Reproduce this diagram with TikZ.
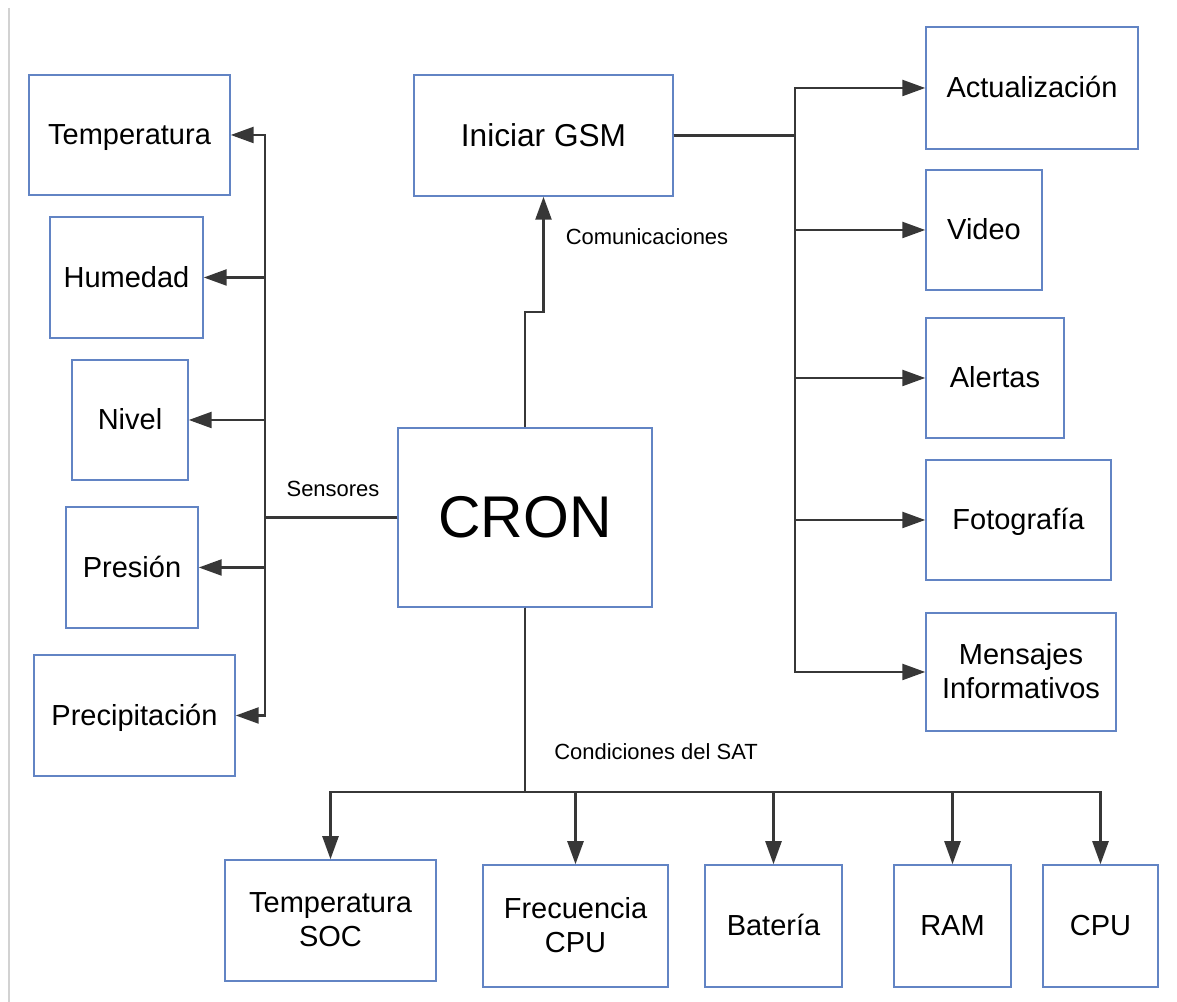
\documentclass[tikz,border=0pt]{standalone}
\usepackage{fontspec}
\setmainfont{Liberation Sans}
\usetikzlibrary{arrows.meta}

\definecolor{boxblue}{RGB}{98,132,196}
\definecolor{linegray}{RGB}{55,55,55}

\tikzset{
  box/.style={draw=boxblue, line width=0.85pt, align=center, inner sep=2pt,
    font=\fontsize{16.5}{19}\selectfont, text depth=0.2ex},
  link/.style={draw=linegray, line width=1.4pt,
    -{Triangle[length=0.46cm, width=0.32cm]}},
  lbl/.style={font=\fontsize{12.5}{15}\selectfont}
}

\begin{document}
\begin{tikzpicture}
\useasboundingbox (0,0) rectangle (23.54,20.04);
\draw[gray!35, line width=0.8pt] (0.18,19.88) -- (0.18,0);

% centro
\node[box, minimum width=5.08cm, minimum height=3.58cm,
  font=\fontsize{33.5}{38}\selectfont] (cron) at (10.50,9.69) {CRON};

% sensores
\node[box, minimum width=4.02cm, minimum height=2.40cm] (temp) at (2.59,17.34) {Temperatura};
\node[box, minimum width=3.06cm, minimum height=2.42cm] (hum) at (2.53,14.49) {Humedad};
\node[box, minimum width=2.32cm, minimum height=2.40cm] (niv) at (2.60,11.64) {Nivel};
\node[box, minimum width=2.64cm, minimum height=2.42cm] (pres) at (2.64,8.69) {Presión};
\node[box, minimum width=4.02cm, minimum height=2.42cm] (prec) at (2.69,5.73) {Precipitación};

% comunicaciones
\node[box, minimum width=5.18cm, minimum height=2.42cm,
  font=\fontsize{18}{21}\selectfont] (gsm) at (10.87,17.33) {Iniciar GSM};
\node[box, minimum width=4.24cm, minimum height=2.44cm] (act) at (20.64,18.28) {Actualización};
\node[box, minimum width=2.32cm, minimum height=2.40cm] (vid) at (19.68,15.44) {Video};
\node[box, minimum width=2.76cm, minimum height=2.40cm] (alr) at (19.90,12.48) {Alertas};
\node[box, minimum width=3.70cm, minimum height=2.40cm] (foto) at (20.37,9.64) {Fotografía};
\node[box, minimum width=3.80cm, minimum height=2.36cm] (msj) at (20.42,6.60) {Mensajes\\Informativos};

% condiciones del SAT
\node[box, minimum width=4.22cm, minimum height=2.42cm] (soc) at (6.61,1.63) {Temperatura\\SOC};
\node[box, minimum width=3.70cm, minimum height=2.44cm] (frec) at (11.51,1.52) {Frecuencia\\CPU};
\node[box, minimum width=2.74cm, minimum height=2.44cm] (bat) at (15.47,1.52) {Batería};
\node[box, minimum width=2.34cm, minimum height=2.44cm] (ram) at (19.05,1.52) {RAM};
\node[box, minimum width=2.30cm, minimum height=2.44cm] (cpu) at (22.01,1.52) {CPU};

\node[lbl] (lsen) at (6.66,10.26) {Sensores};
\node[lbl] (lcom) at (12.94,15.30) {Comunicaciones};
\node[lbl] (lsat) at (13.12,5.00) {Condiciones del SAT};

\coordinate (sbus) at (5.30,0);
\coordinate (rbus) at (15.90,0);
\coordinate (cjog) at (0,13.80);
\coordinate (cbus) at (0,4.20);

\foreach \b in {temp,hum,niv,pres,prec} {
\draw[link] (cron.west) -- (cron.west -| sbus) |- (\b.east);
}

\draw[link] (cron.north) -- (cron.north |- cjog) -| (gsm.south);
\foreach \b in {act,vid,alr,foto,msj} {
\draw[link] (gsm.east) -- (gsm.east -| rbus) |- (\b.west);
}

\foreach \b in {soc,frec,bat,ram,cpu} {
\draw[link] (cron.south) -- (cron.south |- cbus) -| (\b.north);
}
\end{tikzpicture}
\end{document}
